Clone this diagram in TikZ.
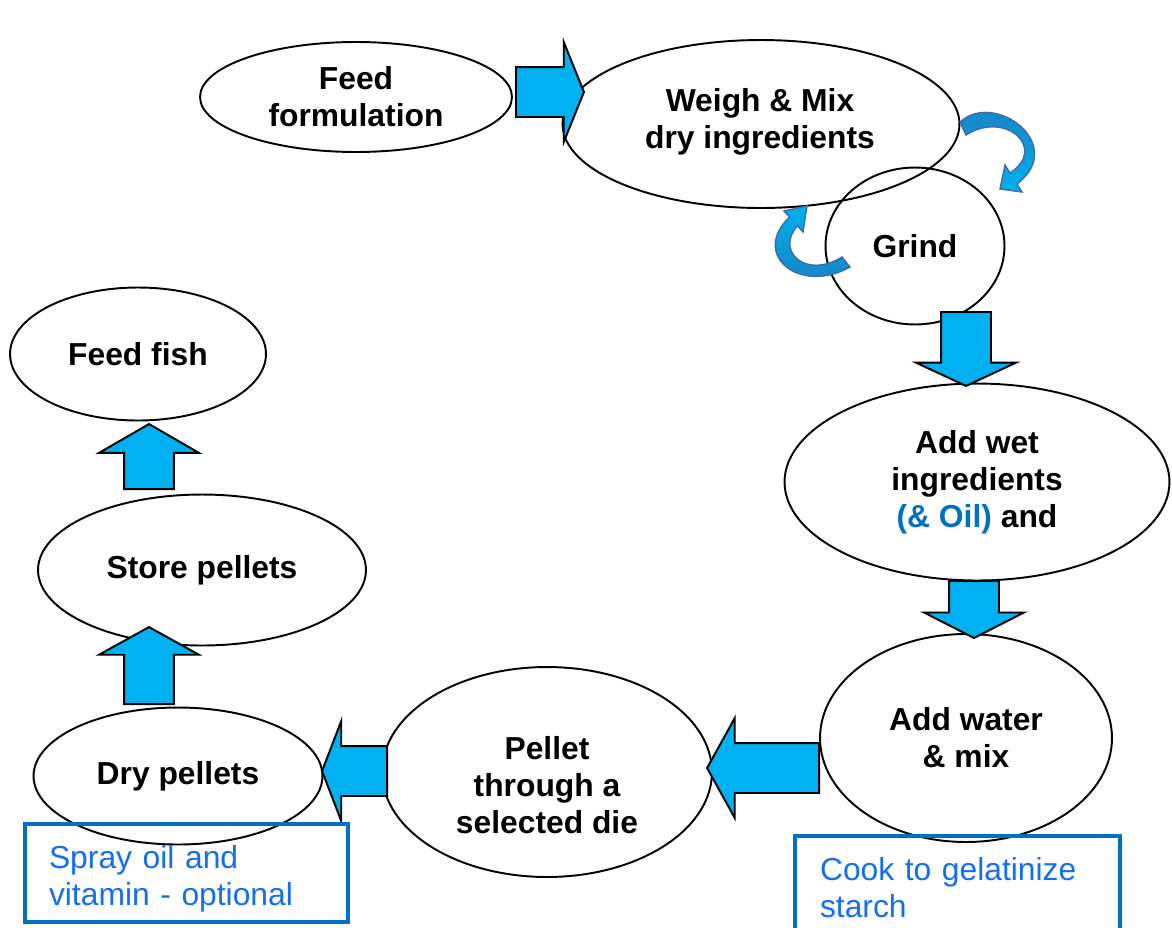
\documentclass[tikz,border=0pt]{standalone}
\usepackage{fontspec}
\setmainfont{Liberation Sans}
\usetikzlibrary{shapes.geometric,shapes.arrows}
\definecolor{arrowcyan}{RGB}{0,176,240}
\definecolor{curldark}{RGB}{28,124,190}
\definecolor{curledge}{RGB}{60,111,160}
\definecolor{boxblue}{RGB}{0,112,192}
\definecolor{noteblue}{RGB}{20,110,240}
\definecolor{oilblue}{RGB}{0,112,192}

\begin{document}
\begin{tikzpicture}[x=0.02cm, y=-0.02cm,
    every node/.style={font=\fontsize{18.1pt}{21pt}\selectfont},
    stagetext/.style={align=center, font=\fontsize{18.1pt}{21pt}\selectfont\bfseries},
    stage/.style={stagetext, ellipse, draw, line width=1.1pt, inner sep=0pt},
    blockarrow/.style={single arrow, draw, line width=1.1pt, fill=arrowcyan, anchor=tail,
        inner xsep=0pt, inner ysep=0.48cm, single arrow head extend=0.5cm},
    curl/.style={draw=curledge, line width=0.8pt},
    note/.style={draw=boxblue, line width=2.3pt, text=noteblue, align=left,
        text width=5.5cm, inner sep=0pt}]
    \useasboundingbox (0,0) rectangle (1172,927);
    \clip (0,0) rectangle (1172,927);

    % stages
    \node[stage, minimum width=6.24cm, minimum height=2.2cm] (formulation) at (356,97) {Feed\\formulation};
    \node[stage, minimum width=7.94cm, minimum height=3.36cm] (weigh) at (761,124) {};
    \node[stagetext] (weightext) at (760,122) {Weigh \& Mix\\dry ingredients};
    \node[stage, minimum width=3.58cm, minimum height=3.14cm] (grind) at (915,246) {Grind};
    \node[stage, minimum width=7.7cm, minimum height=3.94cm] (wet) at (977,482)
        {Add wet\\ingredients\\\textcolor{oilblue}{(\& Oil)} and};
    \node[stage, minimum width=5.84cm, minimum height=4.16cm] (water) at (966,738) {Add water\\\& mix};
    \node[stage, minimum width=6.6cm, minimum height=4.2cm] (pellet) at (547,772) {};
    \node[stagetext] (pellettext) at (547,785) {Pellet\\through a\\selected die};
    \node[stage, minimum width=5.78cm, minimum height=2.74cm] (dry) at (178,776) {Dry pellets};
    \node[stage, minimum width=6.56cm, minimum height=3.02cm] (store) at (202,570) {Store pellets};
    \node[stage, minimum width=5.12cm, minimum height=2.66cm] (fish) at (138,354) {Feed fish};

    % block arrows, placed by their tails
    \foreach \n/\p/\r/\l/\a in {toweigh/{515,92}/0/1.36/136, towet/{966,311}/-90/1.48/130,
            towater/{974,580}/-90/1.14/126, topellet/{820,768}/180/2.24/122,
            todry/{388,771}/180/1.3/138, tostore/{149,705}/90/1.54/122,
            tofish/{149,490}/90/1.3/120} {
        \node[blockarrow, rotate=\r, minimum height=\l cm, single arrow tip angle=\a] (\n) at (\p) {};
    }

    % grind loop
    \path[curl, top color=curldark, bottom color=arrowcyan]
        (960,122) .. controls (995,90) and (1068,145) .. (1017,184) -- (1022,192) -- (1000,189)
        -- (1005,165) -- (1010,173) .. controls (1048,148) and (1005,110) .. (966,135) -- cycle;
    \path[curl, top color=arrowcyan, bottom color=curldark]
        (850,267) .. controls (800,295) and (750,255) .. (789.5,217) -- (784,211) -- (807,206)
        -- (803,232) -- (797.5,226) .. controls (775,250) and (805,280) .. (842,257) -- cycle;

    % notes
    \node[note, text depth=18pt, minimum width=6.46cm, minimum height=1.96cm] (spray) at (186.5,873) {Spray oil and\\vitamin - optional};
    \node[note, minimum width=6.5cm, minimum height=2.06cm] (cook) at (957.5,887.5) {Cook to gelatinize\\starch};
\end{tikzpicture}
\end{document}
